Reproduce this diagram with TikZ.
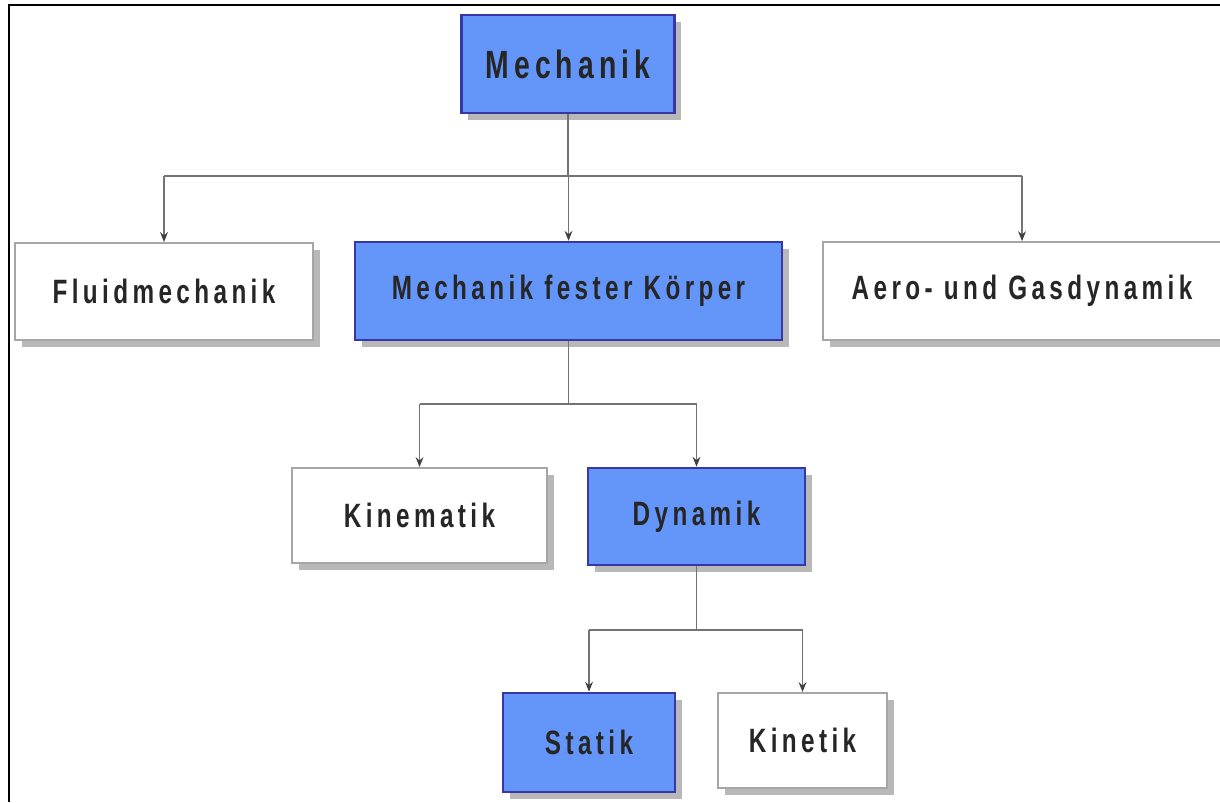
\documentclass[tikz,border=0pt]{standalone}
\usepackage{fontspec}
\newfontfamily\boxfont{Liberation Sans}[FakeStretch=0.72,LetterSpace=13]
\usepackage{tikz}
\usetikzlibrary{shapes.geometric, arrows.meta, positioning, calc, shadows}

\definecolor{boxblue}{RGB}{100,150,250}
\definecolor{boxline}{RGB}{55,55,165}
\definecolor{linkgray}{RGB}{115,115,115}

\tikzset{
  box/.style={rectangle, inner sep=0pt, text=black!85,
    font=\boxfont\bfseries\fontsize{24}{28}\selectfont,
    drop shadow={shadow xshift=0.17cm, shadow yshift=-0.17cm, fill=black!28, opacity=1}},
  bluebox/.style={box, fill=boxblue, draw=boxline, line width=1.7pt},
  whitebox/.style={box, fill=white, draw=black!35, line width=1.2pt},
  link/.style={draw=linkgray, line width=1.2pt},
  arrowlink/.style={link, -{Stealth[length=7pt,width=5.5pt,color=black!75]}}
}

\begin{document}
\begin{tikzpicture}[x=0.025cm, y=-0.025cm]
\useasboundingbox (0,0) rectangle (1220,802);
% frame
\draw[line width=1.4pt] (9,802) -- (9,5) -- (1220,5);

% boxes
\node[bluebox, minimum width=5.33cm, minimum height=2.45cm,
  font=\boxfont\bfseries\fontsize{28}{32}\selectfont] (mech) at (568,64) {Mechanik};
\node[whitebox, minimum width=7.45cm, minimum height=2.43cm] (fluid) at (164,291.5) {Fluidmechanik};
\node[bluebox, minimum width=10.68cm, minimum height=2.45cm] (mfk) at (568.5,291) {Mechanik fester Körper};
\node[whitebox, minimum width=9.95cm, minimum height=2.45cm] (aero) at (1022,291) {Aero- und Gasdynamik};
\node[whitebox, minimum width=6.38cm, minimum height=2.38cm] (kin) at (419.5,515.5) {Kinematik};
\node[bluebox, minimum width=5.43cm, minimum height=2.43cm] (dyn) at (696.5,516.5) {Dynamik};
\node[bluebox, minimum width=4.3cm, minimum height=2.48cm] (stat) at (589,742.5) {Statik};
\node[whitebox, minimum width=4.23cm, minimum height=2.38cm] (kinet) at (802.5,740.5) {Kinetik};

% connectors
\coordinate (bus1) at (0,176);
\coordinate (bus2) at (0,404);
\coordinate (bus3) at (0,630);

\draw[link] (mech.south) -- (mech.south |- bus1);
\draw[link] (fluid.north |- bus1) -- (aero.north |- bus1);
\foreach \t in {fluid,mfk,aero}
  \draw[arrowlink] (\t.north |- bus1) -- (\t.north);

\draw[link] (mfk.south) -- (mfk.south |- bus2);
\draw[link] (kin.north |- bus2) -- (dyn.north |- bus2);
\foreach \t in {kin,dyn}
  \draw[arrowlink] (\t.north |- bus2) -- (\t.north);

\draw[link] (dyn.south) -- (dyn.south |- bus3);
\draw[link] (stat.north |- bus3) -- (kinet.north |- bus3);
\foreach \t in {stat,kinet}
  \draw[arrowlink] (\t.north |- bus3) -- (\t.north);
\end{tikzpicture}
\end{document}
